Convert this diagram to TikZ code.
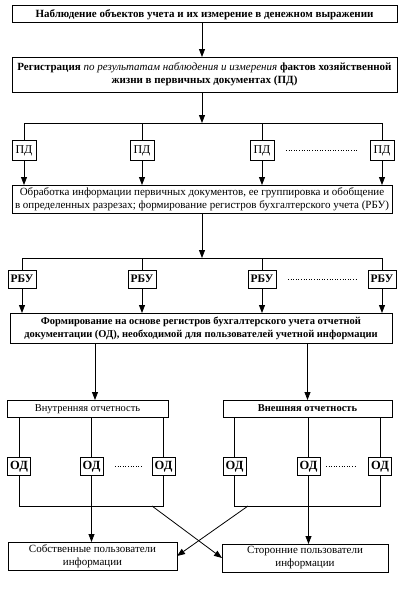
\documentclass[tikz,border=0pt]{standalone}
\usepackage{fontspec}
\setmainfont{Liberation Serif}
\usetikzlibrary{arrows.meta}
\begin{document}
\begin{tikzpicture}[x=1pt,y=-1pt,
  every node/.style={inner sep=1pt,outer sep=0pt},
  box/.style={draw,line width=0.8pt,align=center,font=\fontsize{11}{13}\selectfont},
  one/.style={text depth=0.5pt},
  small/.style={draw,line width=0.8pt,font=\fontsize{12}{12}\selectfont,inner sep=0pt,text depth=0.5pt},
  ln/.style={line width=0.8pt},
  arr/.style={line width=0.8pt,-{Triangle[length=8pt,width=6pt]}},
  dots/.style={line width=0.6pt,dotted}]
\useasboundingbox (0,0) rectangle (400,590);
% top boxes
\node[box,one,minimum width=385pt,minimum height=17pt] (b1) at (204.5,13.5) {\textbf{Наблюдение объектов учета и их измерение в денежном выражении}};
\node[box,minimum width=385pt,minimum height=35pt] (b2) at (204.5,74.5) {\textbf{Регистрация} \textit{по результатам наблюдения и измерения} \textbf{фактов хозяйственной}\\\textbf{жизни в первичных документах (ПД)}};
\draw[arr] (b1.south -| 202,0) -- (b2.north -| 202,0);
% PD
\coordinate (bar1) at (202,123);
\draw[arr] (b2.south -| bar1) -- (bar1);
\foreach \i/\x in {1/24,2/142,3/262,4/382}{
  \node[small,minimum width=24pt,minimum height=20pt] (pd\i) at (\x,150) {ПД};
}
\draw[ln] (pd1.north) -- (pd1.north |- bar1) -- (pd4.north |- bar1) -- (pd4.north);
\draw[ln] (pd2.north) -- (pd2.north |- bar1);
\draw[ln] (pd3.north) -- (pd3.north |- bar1);
\draw[dots] (pd3.east) ++(12,0) coordinate (d1a) (pd4.west) ++(-12,0) coordinate (d1b);
\draw[dots] (d1a) -- (d1b);
\node[box,minimum width=380pt,minimum height=28pt,inner sep=0pt] (b3) at (202,199) {Обработка информации первичных документов, ее группировка и обобщение\\в определенных разрезах; формирование регистров бухгалтерского учета (РБУ)};
\foreach \i in {1,2,3,4}{ \draw[arr] (pd\i.south) -- (pd\i.south |- b3.north); }
% RBU
\coordinate (bar2) at (202,258);
\draw[arr] (b3.south -| bar2) -- (bar2);
\foreach \i/\x in {1/22,2/142,3/262,4/382}{
  \node[small,minimum width=28pt,minimum height=18pt,font=\fontsize{11.5}{12}\selectfont\bfseries] (rb\i) at (\x,279) {РБУ};
}
\draw[ln] (rb1.north) -- (rb1.north |- bar2) -- (rb4.north |- bar2) -- (rb4.north);
\draw[ln] (rb2.north) -- (rb2.north |- bar2);
\draw[ln] (rb3.north) -- (rb3.north |- bar2);
\draw[dots] (rb3.east) ++(12,0) coordinate (d2a) (rb4.west) ++(-12,0) coordinate (d2b);
\draw[dots] (d2a) -- (d2b);
\node[box,minimum width=382pt,minimum height=30pt,font=\fontsize{10.5}{13}\selectfont] (b4) at (201,328) {\textbf{Формирование на основе регистров бухгалтерского учета отчетной}\\\textbf{документации (ОД), необходимой для пользователей учетной информации}};
\foreach \i in {1,2,3,4}{ \draw[arr] (rb\i.south) -- (rb\i.south |- b4.north); }
% reporting
\node[box,one,minimum width=161pt,minimum height=17pt,font=\fontsize{10.5}{12}\selectfont] (in) at (87.5,408.5) {Внутренняя отчетность};
\node[box,one,minimum width=169pt,minimum height=17pt,font=\fontsize{10.5}{12}\selectfont\bfseries] (ex) at (307.5,408.5) {Внешняя отчетность};
\draw[arr] (b4.south -| 95,0) -- (in.north -| 95,0);
\draw[arr] (b4.south -| ex.north) -- (ex.north);
\foreach \i/\x in {1/19,2/91.5,3/163.5}{
  \node[small,minimum width=23pt,minimum height=18pt,font=\fontsize{12.5}{12}\selectfont\bfseries] (oi\i) at (\x,466) {ОД};
}
\foreach \i/\x in {1/234.5,2/308.5,3/380}{
  \node[small,minimum width=23pt,minimum height=18pt,font=\fontsize{12.5}{12}\selectfont\bfseries] (oe\i) at (\x,466) {ОД};
}
\foreach \i in {1,2,3}{
  \draw[ln] (in.south -| oi\i.north) -- (oi\i.north);
  \draw[ln] (ex.south -| oe\i.north) -- (oe\i.north);
}
\draw[dots] (oi2.east) ++(12,0) coordinate (d3a) (oi3.west) ++(-10,0) coordinate (d3b);
\draw[dots] (d3a) -- (d3b);
\draw[dots] (oe2.east) ++(6,0) coordinate (d4a) (oe3.west) ++(-12,0) coordinate (d4b);
\draw[dots] (d4a) -- (d4b);
% brackets
\coordinate (br) at (0,506);
\draw[ln] (oi1.south) -- (oi1.south |- br) -- (oi3.south |- br) -- (oi3.south);
\draw[ln] (oi2.south) -- (oi2.south |- br);
\draw[ln] (oe1.south) -- (oe1.south |- br) -- (oe3.south |- br) -- (oe3.south);
\draw[ln] (oe2.south) -- (oe2.south |- br);
% users
\node[box,minimum width=169pt,minimum height=28pt] (u1) at (92.5,556) {Собственные пользователи\\информации};
\node[box,minimum width=166pt,minimum height=28pt] (u2) at (305,558) {Сторонние пользователи\\информации};
\coordinate (cl) at (152,506);
\coordinate (cr) at (248,506);
\draw[arr] (oi2.south |- br) -- (oi2.south |- u1.north);
\draw[arr] (oe2.south |- br) -- (oe2.south |- u2.north);
\draw[arr] (cl) -- (u2.west);
\draw[arr] (cr) -- (u1.east);
\end{tikzpicture}
\end{document}
